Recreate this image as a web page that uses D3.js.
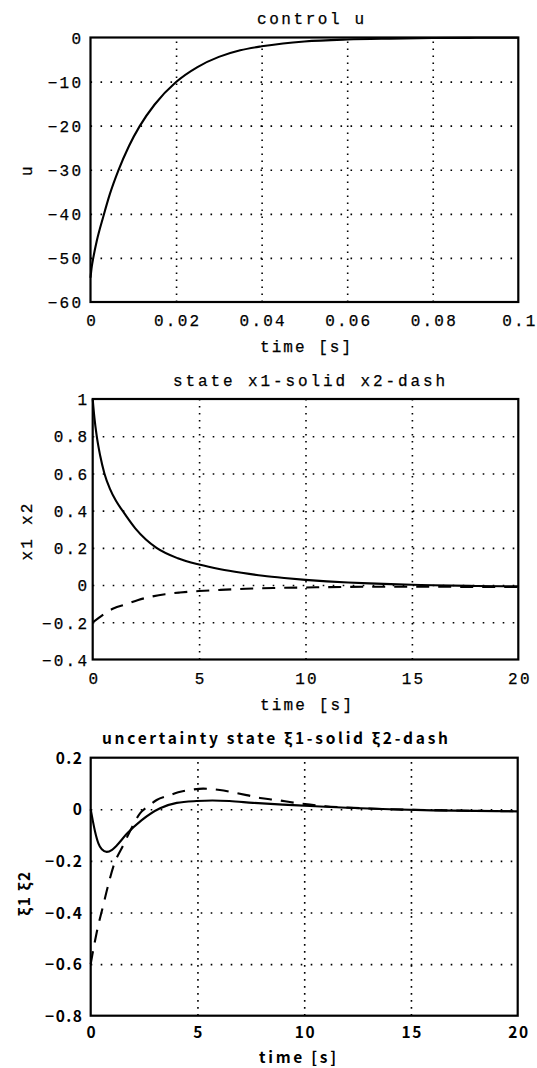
<!DOCTYPE html>
<html><head><meta charset="utf-8">
<script src="https://cdn.jsdelivr.net/npm/d3@7"></script>
<style>html,body{margin:0;padding:0;background:#fff;}</style>
</head><body><svg id="c" width="537" height="1068"></svg>
<script>
// ---------- data ----------
const uTime   = [0, 0.0003, 0.00065, 0.0015, 0.003, 0.0045, 0.0065, 0.009, 0.0115, 0.015, 0.020, 0.025, 0.030, 0.035, 0.040, 0.045, 0.050, 0.060, 0.070, 0.080, 0.090, 0.100];
const uValues = [-54.5, -52, -50, -46.0, -40.6, -35.6, -30.2, -24.6, -20.1, -15.2, -10.1, -6.7, -4.4, -2.9, -2.0, -1.35, -0.9, -0.45, -0.25, -0.12, -0.07, -0.04];

const x1Time   = [0, 0.08, 0.19, 0.35, 0.55, 0.8, 1.1, 1.4, 2.0, 2.5, 3.0, 4.0, 5.0, 6, 7, 8, 9, 10, 11, 12, 13, 14, 15, 16, 18, 20];
const x1Values = [1.0, 0.9, 0.8, 0.696, 0.6, 0.52, 0.452, 0.4, 0.305, 0.245, 0.2, 0.144, 0.11, 0.085, 0.066, 0.05, 0.038, 0.028, 0.02, 0.014, 0.009, 0.005, 0.002, -0.001, -0.005, -0.007];
const x2Time   = [0, 0.3, 0.58, 0.97, 1.6, 2.14, 2.77, 3.4, 4.1, 5, 6, 7.2, 8.5, 10.5, 12, 14, 16, 18, 20];
const x2Values = [-0.2, -0.175, -0.152, -0.126, -0.102, -0.08, -0.062, -0.049, -0.04, -0.032, -0.026, -0.02, -0.016, -0.012, -0.01, -0.009, -0.009, -0.01, -0.01];

const xi1Time   = [0, 0.1, 0.2, 0.36, 0.52, 0.75, 1.0, 1.22, 1.69, 2.39, 3.25, 4.03, 4.96, 5.7, 6.5, 7.6, 9, 10.27, 12, 14, 16, 18, 20];
const xi1Values = [0, -0.045, -0.085, -0.132, -0.155, -0.165, -0.157, -0.14, -0.095, -0.042, 0.004, 0.025, 0.032, 0.034, 0.032, 0.025, 0.018, 0.013, 0.006, 0.0, -0.004, -0.006, -0.008];
const xi2Time   = [0, 0.075, 0.3, 0.59, 0.8, 1.06, 1.53, 1.9, 2.31, 2.7, 3.09, 3.72, 4.1, 4.8, 5.27, 6.05, 6.68, 7.3, 7.93, 8.71, 9.49, 10.27, 11, 12, 13, 14, 16, 18, 20];
const xi2Values = [-0.6, -0.565, -0.47, -0.371, -0.3, -0.222, -0.138, -0.075, -0.016, 0.012, 0.036, 0.055, 0.066, 0.077, 0.08, 0.075, 0.065, 0.055, 0.044, 0.036, 0.026, 0.018, 0.012, 0.007, 0.003, 0.0, -0.003, -0.006, -0.008];

const uXTicks = [0, 0.02, 0.04, 0.06, 0.08, 0.1];
const uXTickLabels = ["0", "0.02", "0.04", "0.06", "0.08", "0.1"];
const uYTicks = [0, -10, -20, -30, -40, -50, -60];
const uYTickLabels = ["0", "\u221210", "\u221220", "\u221230", "\u221240", "\u221250", "\u221260"];

const sXTicks = [0, 5, 10, 15, 20];
const sXTickLabels = ["0", "5", "10", "15", "20"];
const sYTicks = [1, 0.8, 0.6, 0.4, 0.2, 0, -0.2, -0.4];
const sYTickLabels = ["1", "0.8", "0.6", "0.4", "0.2", "0", "\u22120.2", "\u22120.4"];

const eXTicks = [0, 5, 10, 15, 20];
const eXTickLabels = ["0", "5", "10", "15", "20"];
const eYTicks = [0.2, 0, -0.2, -0.4, -0.6, -0.8];
const eYTickLabels = ["0.2", "0", "\u22120.2", "\u22120.4", "\u22120.6", "\u22120.8"];

const titles = ["control u", "state x1-solid x2-dash", "uncertainty state \u03BE1-solid \u03BE2-dash"];
const yLabels = ["u", "x1 x2", "\u03BE1 \u03BE2"];
const xLabel = "time [s]";

// ---------- drawing ----------
const svg = d3.select("#c");
svg.append("rect").attr("width", 537).attr("height", 1068).attr("fill", "#fff");

const MONO = "'Liberation Mono', 'DejaVu Sans Mono', monospace";
const GOTH = "'Noto Sans CJK JP', 'Noto Sans', sans-serif";

function panel(c) {
  const x = d3.scaleLinear().domain(c.xDom).range(c.xRange);
  const y = d3.scaleLinear().domain(c.yDom).range(c.yRange);
  const g = svg.append("g");
  const [L, R] = c.xRange, [B, T] = c.yRange;
  const fontAttrs = sel => sel.attr("font-family", c.font).attr("font-size", c.fs)
      .attr("font-weight", c.bold ? "bold" : "normal").attr("fill", "#000")
      .attr("stroke", c.bold ? null : "#000").attr("stroke-width", c.bold ? null : 0.25)
      .attr("letter-spacing", c.ls);

  // grid (vertical)
  const inX = c.xTicks.slice(1, -1);
  g.append("g").attr("transform", `translate(0,${B})`)
    .call(d3.axisBottom(x).tickValues(inX).tickSize(-(B - T)).tickFormat(""))
    .call(a => a.select(".domain").remove())
    .selectAll("line").attr("stroke", "#000").attr("stroke-width", 1.6).attr("stroke-dasharray", "1.6,5.4");
  // grid (horizontal)
  const inY = c.yTicks.filter(v => v !== c.yDom[0] && v !== c.yDom[1]);
  g.append("g").attr("transform", `translate(${L},0)`)
    .call(d3.axisLeft(y).tickValues(inY).tickSize(-(R - L)).tickFormat(""))
    .call(a => a.select(".domain").remove())
    .selectAll("line").attr("stroke", "#000").attr("stroke-width", 1.6).attr("stroke-dasharray", "1.6,8.4");

  // y tick labels
  const ya = g.append("g").attr("transform", `translate(${L},0)`)
    .call(d3.axisLeft(y).tickValues(c.yTicks).tickSize(0).tickPadding(c.yPad)
      .tickFormat((d, i) => c.yTickLabels[i]));
  ya.select(".domain").remove();
  ya.selectAll("text").call(fontAttrs).attr("dy", "0.36em");

  // x tick labels
  const xa = g.append("g").attr("transform", `translate(0,${B})`)
    .call(d3.axisBottom(x).tickValues(c.xTicks).tickSize(0)
      .tickFormat((d, i) => c.xTickLabels[i]));
  xa.select(".domain").remove();
  xa.selectAll("text").call(fontAttrs).attr("y", c.xLabBase - B).attr("dy", 0)
    .attr("dx", c.ls / 2);

  // curves
  const line = d3.line().x(d => x(d[0])).y(d => y(d[1])).curve(d3.curveMonotoneX);
  c.series.forEach(s => {
    const pts = s.t.map((t, i) => [t, s.v[i]]);
    g.append("path").datum(pts).attr("d", line).attr("fill", "none")
      .attr("stroke", "#000").attr("stroke-width", 2.1)
      .attr("stroke-dasharray", s.dash ? "13,9" : null)
      .attr("stroke-linejoin", "round");
  });

  // box
  g.append("rect").attr("x", L).attr("y", T).attr("width", R - L).attr("height", B - T)
    .attr("fill", "none").attr("stroke", "#000").attr("stroke-width", 2.2);

  // title
  g.append("text").text(c.title).attr("x", c.titleX).attr("y", c.titleY)
    .attr("textLength", c.titleLen).attr("lengthAdjust", "spacing")
    .call(fontAttrs).attr("letter-spacing", null);
  // x label
  g.append("text").text(xLabel).attr("x", c.xlX).attr("y", c.xlY)
    .attr("textLength", c.xlLen).attr("lengthAdjust", "spacing")
    .call(fontAttrs).attr("letter-spacing", null);
  // y label
  g.append("text").text(c.ylabel)
    .attr("transform", `translate(${c.ylX},${c.ylY}) rotate(-90)`)
    .attr("text-anchor", "middle")
    .call(fontAttrs);
}

panel({
  xDom: [0, 0.1], xRange: [90.5, 518.3], yDom: [-60, 0], yRange: [302, 37.5],
  xTicks: uXTicks, xTickLabels: uXTickLabels, yTicks: uYTicks, yTickLabels: uYTickLabels,
  series: [{t: uTime, v: uValues, dash: false}],
  font: MONO, fs: 16, bold: false, ls: 2.2, yPad: 7.3, xLabBase: 325.5,
  title: titles[0], titleX: 257, titleY: 24, titleLen: 107,
  xlX: 260, xlY: 352, xlLen: 91,
  ylabel: yLabels[0], ylX: 32, ylY: 170
});

panel({
  xDom: [0, 20], xRange: [92.7, 518.3], yDom: [-0.4, 1], yRange: [659.5, 399],
  xTicks: sXTicks, xTickLabels: sXTickLabels, yTicks: sYTicks, yTickLabels: sYTickLabels,
  series: [{t: x1Time, v: x1Values, dash: false}, {t: x2Time, v: x2Values, dash: true}],
  font: MONO, fs: 16, bold: false, ls: 2.2, yPad: 3.5, xLabBase: 684,
  title: titles[1], titleX: 173, titleY: 386, titleLen: 272,
  xlX: 260, xlY: 710, xlLen: 92,
  ylabel: yLabels[1], ylX: 31.5, ylY: 531
});

panel({
  xDom: [0, 20], xRange: [90.7, 517.7], yDom: [-0.8, 0.2], yRange: [1015.7, 757.7],
  xTicks: eXTicks, xTickLabels: eXTickLabels, yTicks: eYTicks, yTickLabels: eYTickLabels,
  series: [{t: xi1Time, v: xi1Values, dash: false}, {t: xi2Time, v: xi2Values, dash: true}],
  font: GOTH, fs: 15.5, bold: true, ls: 1.5, yPad: 7.2, xLabBase: 1038.5,
  title: titles[2], titleX: 102, titleY: 744, titleLen: 346,
  xlX: 259, xlY: 1063, xlLen: 77,
  ylabel: yLabels[2], ylX: 30, ylY: 893
});
</script>
</body></html>
